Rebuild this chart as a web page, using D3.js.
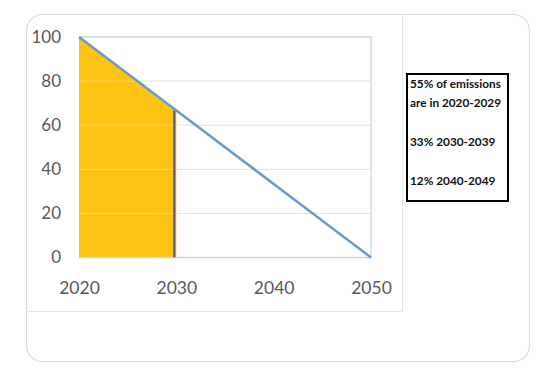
<!DOCTYPE html>
<html><head><meta charset="utf-8">
<script src="https://cdn.jsdelivr.net/npm/d3@7"></script>
<style>html,body{margin:0;padding:0;background:#fff;}svg{display:block;}</style>
</head><body>
<svg id="c" width="539" height="372"></svg>
<script>
const years = [2020, 2050];
const values = [100, 0];
const shadedYears = [2020, 2030];
const xTicks = [2020, 2030, 2040, 2050];
const yTicks = [0, 20, 40, 60, 80, 100];
const noteLines = ["55% of emissions", "are in 2020-2029", "", "33% 2030-2039", "", "12% 2040-2049"];

const svg = d3.select("#c");
// card
svg.append("rect").attr("x", 26.5).attr("y", 14.5).attr("width", 503).attr("height", 347)
  .attr("rx", 16).attr("fill", "#fff").attr("stroke", "#d9dbe0").attr("stroke-width", 1.2);
// chart-object boundaries
svg.append("path").attr("d", "M26.5,311.5 H402.5 V14.5").attr("fill", "none")
  .attr("stroke", "#e3e5e8").attr("stroke-width", 1);

const x = d3.scaleLinear().domain([2020, 2050]).range([79, 371]);
const y = d3.scaleLinear().domain([0, 100]).range([257.5, 37]);
const lineVal = d3.scaleLinear().domain(years).range(values);

// gridlines
svg.append("g").selectAll("line").data(yTicks.filter(d => d > 0 && d < 100)).join("line")
  .attr("x1", x(2020)).attr("x2", x(2050)).attr("y1", d => y(d)).attr("y2", d => y(d))
  .attr("stroke", "#e0e0e0").attr("stroke-width", 1);

// shaded area
const areaData = d3.range(shadedYears[0], shadedYears[1] + 0.001, 1).map(t => ({t, v: lineVal(t)}));
const areaGen = d3.area().x(d => x(d.t)).y0(y(0)).y1(d => y(d.v));
svg.append("clipPath").attr("id", "areaClip").append("path").datum(areaData).attr("d", areaGen);
svg.append("path").datum(areaData).attr("d", areaGen).attr("fill", "#fdc414");
// faint gridlines over area
svg.append("g").attr("clip-path", "url(#areaClip)").selectAll("line")
  .data(yTicks.filter(d => d > 0 && d < 100)).join("line")
  .attr("x1", x(2020)).attr("x2", x(shadedYears[1])).attr("y1", d => y(d)).attr("y2", d => y(d))
  .attr("stroke", "#fdd86a").attr("stroke-width", 1);

// plot border (top, right, bottom)
svg.append("path").attr("d", `M${x(2020)},${y(100)} H${x(2050)} V${y(0)} H${x(2020)}`)
  .attr("fill", "none").attr("stroke", "#c9d6e4").attr("stroke-width", 1.3);

// purple vertical line
svg.append("line").attr("x1", x(shadedYears[1]) - 2).attr("x2", x(shadedYears[1]) - 2)
  .attr("y1", y(lineVal(shadedYears[1]))).attr("y2", y(0))
  .attr("stroke", "#5b4a8b").attr("stroke-width", 2);

// main line
svg.append("path").datum(years.map((t, i) => ({t, v: values[i]})))
  .attr("d", d3.line().x(d => x(d.t)).y(d => y(d.v)))
  .attr("fill", "none").attr("stroke", "#6a9bc9").attr("stroke-width", 2.5);

// axes
const yAxis = d3.axisLeft(y).tickValues(yTicks).tickSize(0).tickPadding(18);
const gy = svg.append("g").attr("transform", `translate(${x(2020)},0)`).call(yAxis);
gy.select(".domain").remove();
gy.selectAll("text").attr("font-family", "Lato, 'Open Sans', sans-serif").attr("font-size", 17).attr("fill", "#595959");

const xAxis = d3.axisBottom(x).tickValues(xTicks).tickFormat(d3.format("d")).tickSize(0).tickPadding(24);
const gx = svg.append("g").attr("transform", `translate(0,${y(0)})`).call(xAxis);
gx.select(".domain").remove();
gx.selectAll("text").attr("font-family", "Lato, 'Open Sans', sans-serif").attr("font-size", 17.5).attr("fill", "#595959");

// note box
svg.append("rect").attr("x", 407).attr("y", 74).attr("width", 101).attr("height", 127)
  .attr("fill", "#fff").attr("stroke", "#000").attr("stroke-width", 2);
svg.append("g").selectAll("text").data(noteLines).join("text")
  .attr("x", 410).attr("y", (d, i) => 88 + i * 19.3)
  .attr("font-family", "Lato, 'Open Sans', sans-serif").attr("font-weight", "bold")
  .attr("font-size", 11.8).attr("fill", "#111").text(d => d);
</script>
</body></html>
